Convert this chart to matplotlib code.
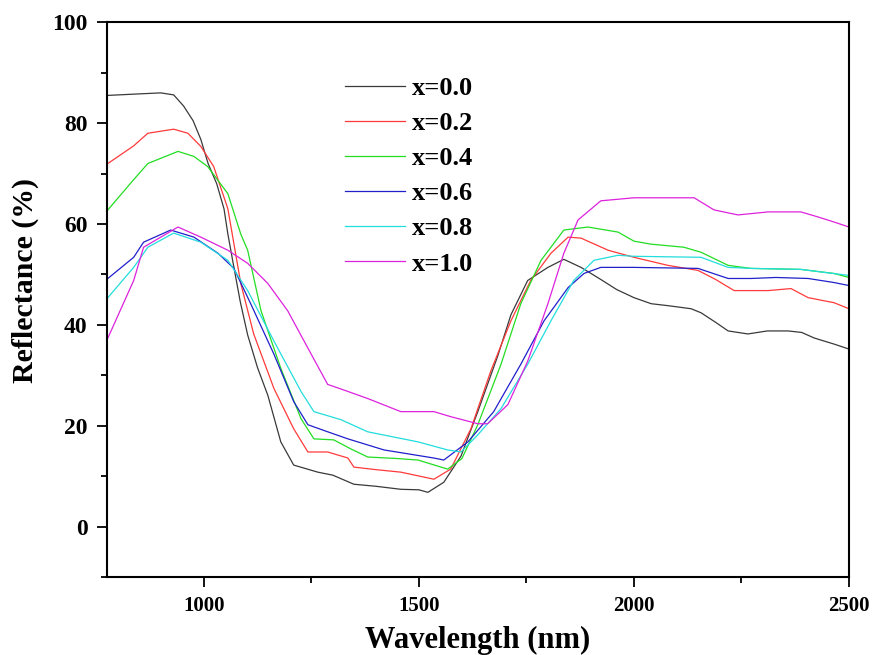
import matplotlib
matplotlib.use("Agg")
import matplotlib.pyplot as plt
from matplotlib.ticker import MultipleLocator

plt.rcParams['font.family'] = ['Liberation Serif', 'DejaVu Serif']
plt.rcParams['font.weight'] = 'bold'

labels = ["x=0.0", "x=0.2", "x=0.4", "x=0.6", "x=0.8", "x=1.0"]
colors = ['#3a3a3a', '#ff3a3a', '#22dd22', '#2020cc', '#22dddd', '#dd22dd']

# x=0.0
w0 = [777, 850, 900, 930, 953, 975, 993, 1010, 1030, 1047, 1056, 1070, 1085, 1102, 1125, 1149, 1179, 1209, 1265, 1300,
      1349, 1400, 1458, 1500, 1521, 1558, 1598, 1637, 1684, 1714, 1753, 1800, 1837, 1877, 1923, 1960, 2000, 2040, 2080,
      2133, 2156, 2190, 2219, 2265, 2310, 2358, 2390, 2419, 2465, 2500]
r0 = [85.5, 85.8, 86, 85.6, 83.4, 80.5, 76.8, 72, 68, 63, 58, 51.4, 44.5, 38, 31.5, 26, 16.8, 12.2, 10.8, 10.2,
      8.4, 8, 7.4, 7.3, 6.8, 8.8, 14, 22.8, 34, 42, 48.8, 51.4, 53, 51.4, 49, 47, 45.4, 44.2, 43.8,
      43.2, 42.4, 40.5, 38.8, 38.2, 38.8, 38.8, 38.5, 37.4, 36.2, 35.2]

# x=0.2
w1 = [777, 837, 870, 930, 963, 993, 1023, 1056, 1086, 1116, 1163, 1209, 1242, 1288, 1335, 1349, 1400, 1458, 1535, 1574,
      1621, 1667, 1714, 1760, 1807, 1847, 1877, 1940, 2000, 2079, 2149, 2190, 2233, 2312, 2365, 2405, 2465, 2500]
r1 = [72, 75.5, 78, 78.8, 78, 75.4, 71.4, 63, 48.2, 38.2, 27.4, 19.4, 14.8, 14.8, 13.6, 11.8, 11.3, 10.8, 9.4, 11.4,
      19.4, 30.8, 40.8, 48.8, 54.2, 57.4, 57.2, 54.8, 53.4, 51.8, 50.8, 49, 46.8, 46.8, 47.2, 45.4, 44.4, 43.2]

# x=0.4
w2 = [777, 837, 870, 940, 977, 1009, 1056, 1086, 1102, 1133, 1179, 1226, 1256, 1302, 1342, 1381, 1450, 1498, 1567, 1600,
      1637, 1691, 1737, 1784, 1837, 1893, 1963, 2000, 2040, 2116, 2156, 2219, 2272, 2388, 2465, 2500]
r2 = [62.8, 68.8, 72, 74.4, 73.4, 71.4, 66, 58, 54.8, 42.8, 31.4, 21.4, 17.4, 17.2, 15.4, 13.8, 13.5, 13.2, 11.4, 13.5,
      20.2, 32.2, 44.2, 52.8, 58.8, 59.4, 58.4, 56.6, 56, 55.4, 54.4, 51.8, 51.2, 51, 50.2, 49.4]

# x=0.6
w3 = [777, 837, 860, 923, 977, 1033, 1070, 1109, 1163, 1209, 1242, 1288, 1335, 1419, 1535, 1558, 1614, 1674, 1737, 1791,
      1847, 1884, 1923, 2000, 2149, 2219, 2272, 2330, 2405, 2465, 2500]
r3 = [49.2, 53.4, 56.4, 58.8, 57.4, 54.2, 51.2, 44.2, 34.2, 24.8, 20.2, 18.8, 17.4, 15.2, 13.6, 13.2, 16.8, 22.8, 32.2, 40.8,
      47.4, 50.2, 51.4, 51.4, 51.2, 49.2, 49.2, 49.4, 49.2, 48.4, 47.8]

# x=0.8
w4 = [777, 837, 870, 930, 993, 1056, 1102, 1163, 1226, 1256, 1319, 1381, 1498, 1567, 1598, 1637, 1691, 1753, 1807, 1860,
      1907, 1963, 2000, 2156, 2219, 2272, 2388, 2500]
r4 = [45.4, 51.4, 55.4, 58.2, 56.4, 52.8, 46.8, 36.8, 26.8, 22.8, 21.2, 18.8, 16.8, 15.2, 14.8, 18.2, 23.4, 32.2, 40.8, 48.8,
      52.8, 53.8, 53.6, 53.4, 51.4, 51.2, 51, 49.8]

# x=1.0
w5 = [777, 837, 860, 940, 993, 1056, 1102, 1149, 1195, 1242, 1288, 1335, 1381, 1458, 1535, 1574, 1637, 1660, 1707, 1753,
      1800, 1837, 1870, 1923, 2000, 2140, 2186, 2242, 2312, 2388, 2428, 2465, 2500]
r5 = [37.4, 48.8, 55.4, 59.4, 57.4, 54.8, 52.2, 48.2, 42.8, 35.4, 28.2, 26.8, 25.4, 22.8, 22.8, 21.8, 20.4, 20.4, 24.2, 32.8,
      44.2, 54.2, 60.8, 64.6, 65.2, 65.2, 62.8, 61.8, 62.4, 62.4, 61.4, 60.4, 59.4]

waves = [w0, w1, w2, w3, w4, w5]
refl = [r0, r1, r2, r3, r4, r5]

fig = plt.figure(figsize=(8.75, 6.55), dpi=100)
ax = fig.add_axes([0.1223, 0.119, 0.848, 0.847])

for w, r, c, lab in zip(waves, refl, colors, labels):
    ax.plot(w, r, color=c, linewidth=0.9, label=lab)

ax.set_xlim(775, 2500)
ax.set_ylim(-10, 100)
ax.xaxis.set_major_locator(MultipleLocator(500))
ax.xaxis.set_minor_locator(MultipleLocator(250))
ax.yaxis.set_major_locator(MultipleLocator(20))
ax.yaxis.set_minor_locator(MultipleLocator(10))
ax.tick_params(which='major', direction='out', length=7, width=1.3, pad=7)
ax.tick_params(axis='x', which='major', labelsize=15)
ax.tick_params(axis='y', which='major', labelsize=17)
ax.tick_params(which='minor', direction='out', length=4, width=1.3)
for s in ax.spines.values():
    s.set_linewidth(1.5)

ax.set_xlabel("Wavelength (nm)", fontsize=22, fontweight='bold')
ax.set_ylabel("Reflectance (%)", fontsize=21.5, fontweight='bold')
ax.xaxis.set_label_coords(0.5, -0.088)
ax.yaxis.set_label_coords(-0.092, 0.535)

ax.legend(loc='upper left', bbox_to_anchor=(0.321, 0.902), frameon=False, fontsize=19,
          handlelength=2.27, handletextpad=0.27, labelspacing=0.44, borderpad=0, borderaxespad=0)

fig.savefig("out.png", dpi=100)
